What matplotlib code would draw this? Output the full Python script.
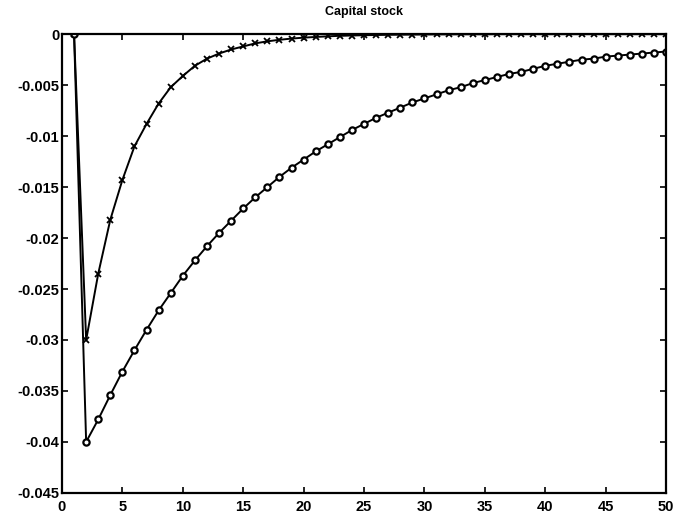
import matplotlib
matplotlib.use('Agg')
import matplotlib.pyplot as plt
import numpy as np

# periods after the shock
periods = np.arange(1, 51)

# capital stock response, fast-adjusting case (x markers)
capital_fast = [
    0.0, -0.0300, -0.0235, -0.0182, -0.0143, -0.0110, -0.0088, -0.0068,
    -0.0052, -0.0041, -0.0031, -0.0024, -0.0019, -0.0015, -0.0012, -0.0009,
    -0.0007, -0.00055, -0.00043, -0.00034, -0.00027, -0.00021, -0.00016,
    -0.00013, -0.0001, -0.00008, -0.00006, -0.00005, -0.00004, -0.00003,
    -0.00002, -0.00002, -0.00001, -0.00001, -0.00001, 0.0, 0.0, 0.0, 0.0,
    0.0, 0.0, 0.0, 0.0, 0.0, 0.0, 0.0, 0.0, 0.0, 0.0, 0.0,
]

# capital stock response, slow-adjusting case (o markers)
capital_slow = [
    0.0, -0.0400, -0.0378, -0.0354, -0.0331, -0.0310, -0.0290, -0.0271,
    -0.0254, -0.0237, -0.0222, -0.0208, -0.0195, -0.0183, -0.0171, -0.0160,
    -0.0150, -0.0140, -0.0131, -0.0123, -0.0115, -0.0108, -0.0101, -0.0094,
    -0.0088, -0.0082, -0.0077, -0.0072, -0.0067, -0.0063, -0.0059, -0.0055,
    -0.0052, -0.0048, -0.0045, -0.0042, -0.0039, -0.0037, -0.0034, -0.0031,
    -0.0029, -0.0027, -0.0025, -0.0024, -0.0022, -0.0021, -0.0020, -0.0019,
    -0.0018, -0.0017,
]

x_ticks = [0, 5, 10, 15, 20, 25, 30, 35, 40, 45, 50]
y_ticks = [0, -0.005, -0.01, -0.015, -0.02, -0.025, -0.03, -0.035, -0.04, -0.045]
y_labels = ['0', '-0.005', '-0.01', '-0.015', '-0.02', '-0.025', '-0.03',
            '-0.035', '-0.04', '-0.045']

plt.rcParams['font.family'] = ['Liberation Sans', 'DejaVu Sans']

fig = plt.figure(figsize=(6.91, 5.26), dpi=100)
ax = fig.add_axes([0.0897, 0.063, 0.8743, 0.872])

ax.plot(periods, capital_fast, color='black', linewidth=1.4,
        marker='x', markersize=5, markeredgewidth=1.3)
ax.plot(periods, capital_slow, color='black', linewidth=1.4,
        marker='o', markersize=4.5, markeredgewidth=1.6,
        markerfacecolor='white')

ax.set_xlim(0, 50)
ax.set_ylim(-0.045, 0)
ax.set_xticks(x_ticks)
ax.set_yticks(y_ticks)
ax.set_yticklabels(y_labels)
ax.tick_params(direction='in', length=4, width=1.2, top=True, right=True,
               labelsize=10.5)
ax.tick_params(axis='x', pad=5)
ax.tick_params(axis='y', pad=2)
for lbl in ax.get_xticklabels() + ax.get_yticklabels():
    lbl.set_fontweight('bold')
for side in ax.spines.values():
    side.set_linewidth(1.6)

ax.set_title('Capital stock', fontsize=9, fontweight='bold', pad=14)

fig.savefig('out.png', dpi=100)
